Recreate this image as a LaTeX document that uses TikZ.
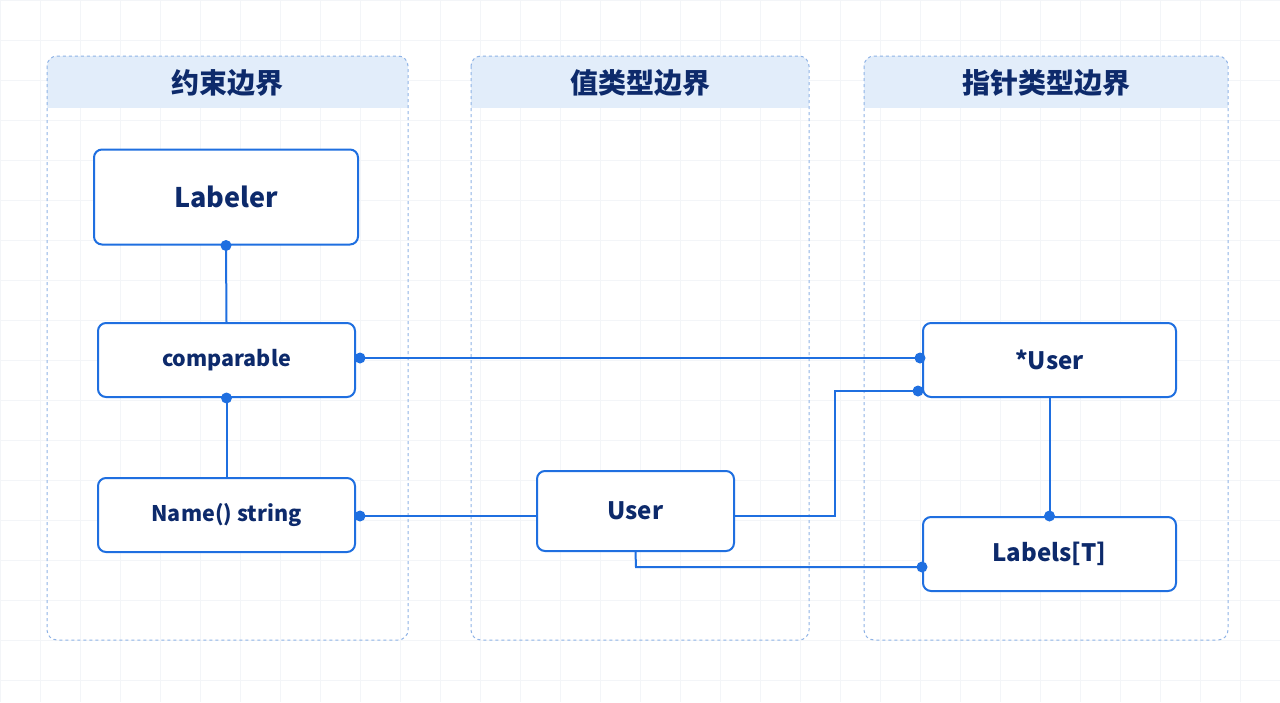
\documentclass[tikz,border=0pt]{standalone}
\usepackage{fontspec}
\setmainfont{Noto Sans CJK SC}
\usetikzlibrary{calc}
\definecolor{ln}{HTML}{1F6FE0}
\definecolor{tx}{HTML}{0D2A6B}
\definecolor{hd}{HTML}{E2EDFA}
\definecolor{pb}{HTML}{8FB3E6}
\definecolor{gr}{HTML}{F3F5F8}
\begin{document}
\begin{tikzpicture}[x=1pt,y=-1pt,
 panel/.style={draw=pb,dashed,rounded corners=10pt,line width=1pt},
 box/.style={draw=ln,line width=2pt,rounded corners=8pt,fill=white,text=tx,font=\bfseries},
 con/.style={ln,line width=2pt},
 dot/.style={circle,fill=ln,inner sep=0pt,minimum size=11pt},
 ttl/.style={text=tx,font=\bfseries\fontsize{28}{32}\selectfont}]
\fill[white] (0,0) rectangle (1280,702);
\useasboundingbox (0,0) rectangle (1280,702);
\foreach \x in {0,40,...,1280} \draw[gr,line width=0.5pt] (\x,0)--(\x,702);
\foreach \y in {0,40,...,702} \draw[gr,line width=0.5pt] (0,\y)--(1280,\y);
% panels
\foreach \a/\b/\t/\n in {47/408/约束边界/p1,471/809/值类型边界/p2,864/1228/指针类型边界/p3}{
 \begin{scope}
 \clip[rounded corners=10pt] (\a,56) rectangle (\b,640);
 \fill[hd] (\a,56) rectangle (\b,108);
 \end{scope}
 \draw[panel] (\a,56) rectangle (\b,640);
 \node[ttl] (\n) at ({(\a+\b)/2},83) {\t};
}
% boxes
\node[box,minimum width=264pt,minimum height=95pt,font=\bfseries\fontsize{27}{30}\selectfont] (lab) at (226,197) {Labeler};
\node[box,minimum width=257pt,minimum height=74pt,font=\bfseries\fontsize{21.5}{24}\selectfont] (cmp) at (226.5,360) {comparable};
\node[box,minimum width=257pt,minimum height=74pt,font=\bfseries\fontsize{21.5}{24}\selectfont] (nam) at (226.5,515) {Name() string};
\node[box,minimum width=197pt,minimum height=80pt,font=\bfseries\fontsize{24}{28}\selectfont] (usr) at (635.5,511) {User};
\node[box,minimum width=253pt,minimum height=74pt,font=\bfseries\fontsize{24}{28}\selectfont] (pus) at (1049.5,360) {*User};
\node[box,minimum width=253pt,minimum height=74pt,font=\bfseries\fontsize{24}{28}\selectfont] (lbt) at (1049.5,554) {Labels[T]};
% connectors
\coordinate (c1) at (lab.south);
\draw[con] (lab.south) -- (cmp.north);
\node[dot] at (c1) {};
\draw[con] (cmp.south) -- (nam.north);
\node[dot] at (cmp.south) {};
\coordinate (a1) at ($(cmp.east)+(4,-2)$);
\coordinate (a2) at ($(pus.west)+(-2,-2)$);
\draw[con] (a1) -- (a2);
\node[dot] at (a1) {}; \node[dot] at (a2) {};
\coordinate (b1) at ($(nam.east)+(4,1)$);
\draw[con] (b1) -- (usr.west |- b1);
\node[dot] at (b1) {};
\coordinate (d1) at (918,391);
\draw[con] (usr.east |- 0,516) -- (835,516) -- (835,391) -- (d1);
\node[dot] at (d1) {};
\coordinate (e1) at (922,567);
\draw[con] (usr.south) -- (636,567) -- (e1);
\node[dot] at (e1) {};
\draw[con] (pus.south) -- (lbt.north);
\node[dot] at (lbt.north) {};
\end{tikzpicture}
\end{document}
